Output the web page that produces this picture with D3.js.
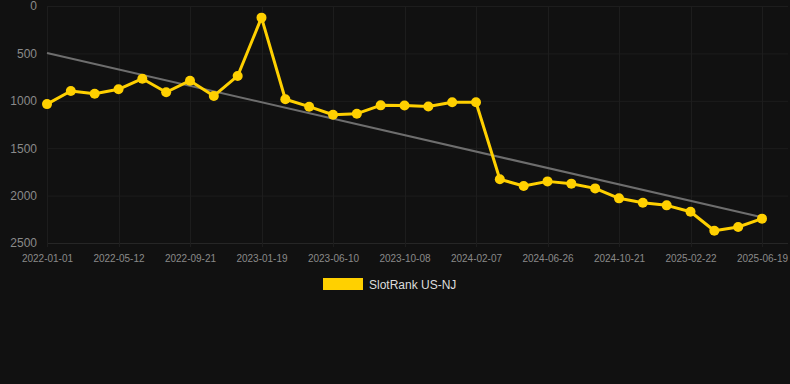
<!DOCTYPE html>
<html><head><meta charset="utf-8">
<script src="https://cdn.jsdelivr.net/npm/d3@7"></script>
<style>html,body{margin:0;padding:0;background:#111111;}svg{display:block;}</style>
</head><body><svg id="c" width="790" height="384"></svg>
<script>
const dates = ["2022-01-01","2022-02-13","2022-03-28","2022-05-12","2022-06-24","2022-08-07","2022-09-21","2022-11-01","2022-12-10","2023-01-19","2023-03-06","2023-04-23","2023-06-10","2023-07-30","2023-08-19","2023-10-08","2023-11-18","2023-12-28","2024-02-07","2024-03-22","2024-05-12","2024-06-26","2024-08-05","2024-09-12","2024-10-21","2024-11-30","2025-01-12","2025-02-22","2025-04-05","2025-05-12","2025-06-19"];
const ranks = [1035,897,925,879,767,910,788,949,738,123,984,1062,1147,1136,1048,1050,1060,1016,1016,1828,1899,1850,1874,1924,2029,2075,2103,2170,2371,2331,2243];
const yTicks = [0,500,1000,1500,2000,2500];
const seriesName = "SlotRank US-NJ";

const svg = d3.select("#c");
const mLeft = 47, mRight = 762, mTop = 6, mBottom = 243;
const x = d3.scalePoint().domain(dates).range([mLeft, mRight]);
const y = d3.scaleLinear().domain([0, 2500]).range([mTop, mBottom]);
const FONT = "Helvetica, Arial, 'Liberation Sans', sans-serif";

// grid horizontal
svg.append("g").selectAll("line").data(yTicks).join("line")
  .attr("x1", 47).attr("x2", 788).attr("y1", d => y(d) + 0.5).attr("y2", d => y(d) + 0.5)
  .attr("stroke", d => d === 2500 ? "#262626" : "#1d1d1d").attr("stroke-width", 1);
// vertical grid at every 3rd category
const xTicks = dates.filter((d, i) => i % 3 === 0);
svg.append("g").selectAll("line").data(xTicks).join("line")
  .attr("x1", d => Math.round(x(d)) + 0.5).attr("x2", d => Math.round(x(d)) + 0.5).attr("y1", mTop).attr("y2", mBottom + 4)
  .attr("stroke", "#1d1d1d").attr("stroke-width", 1);

// y axis labels
const yAxis = d3.axisLeft(y).tickValues(yTicks).tickSize(0).tickPadding(0).tickFormat(d3.format("d"));
const gy = svg.append("g").attr("transform", "translate(37,0)").call(yAxis);
gy.select(".domain").remove();
gy.selectAll("text").attr("fill", "#8a8a8a").attr("font-size", 12).attr("font-family", FONT);

// x axis labels
const xAxis = d3.axisBottom(x).tickValues(xTicks).tickSize(0).tickPadding(0);
const gx = svg.append("g").attr("transform", `translate(0,${mBottom + 12})`).call(xAxis);
gx.select(".domain").remove();
gx.selectAll("text").attr("fill", "#8a8a8a").attr("font-size", 10).attr("font-family", FONT);

// trend line (least squares)
const n = ranks.length;
const xs = d3.range(n);
const mx = d3.mean(xs), my = d3.mean(ranks);
const slope = d3.sum(xs, i => (i - mx) * (ranks[i] - my)) / d3.sum(xs, i => (i - mx) ** 2);
const icpt = my - slope * mx;
svg.append("line")
  .attr("x1", x(dates[0])).attr("y1", y(icpt))
  .attr("x2", x(dates[n - 1])).attr("y2", y(icpt + slope * (n - 1)))
  .attr("stroke", "#6e6e6e").attr("stroke-width", 2);

// series line
const line = d3.line().x((d, i) => x(dates[i])).y(d => y(d));
svg.append("path").datum(ranks).attr("d", line)
  .attr("fill", "none").attr("stroke", "#FFD000").attr("stroke-width", 3).attr("stroke-linejoin", "round");
svg.append("g").selectAll("circle").data(ranks).join("circle")
  .attr("cx", (d, i) => x(dates[i])).attr("cy", d => y(d)).attr("r", 5)
  .attr("fill", "#FFD000");

// legend
svg.append("rect").attr("x", 323).attr("y", 278).attr("width", 40).attr("height", 12).attr("fill", "#FFD000");
svg.append("text").attr("x", 369).attr("y", 288.5).text(seriesName)
  .attr("fill", "#dddddd").attr("font-size", 12).attr("font-family", FONT);
</script></body></html>
